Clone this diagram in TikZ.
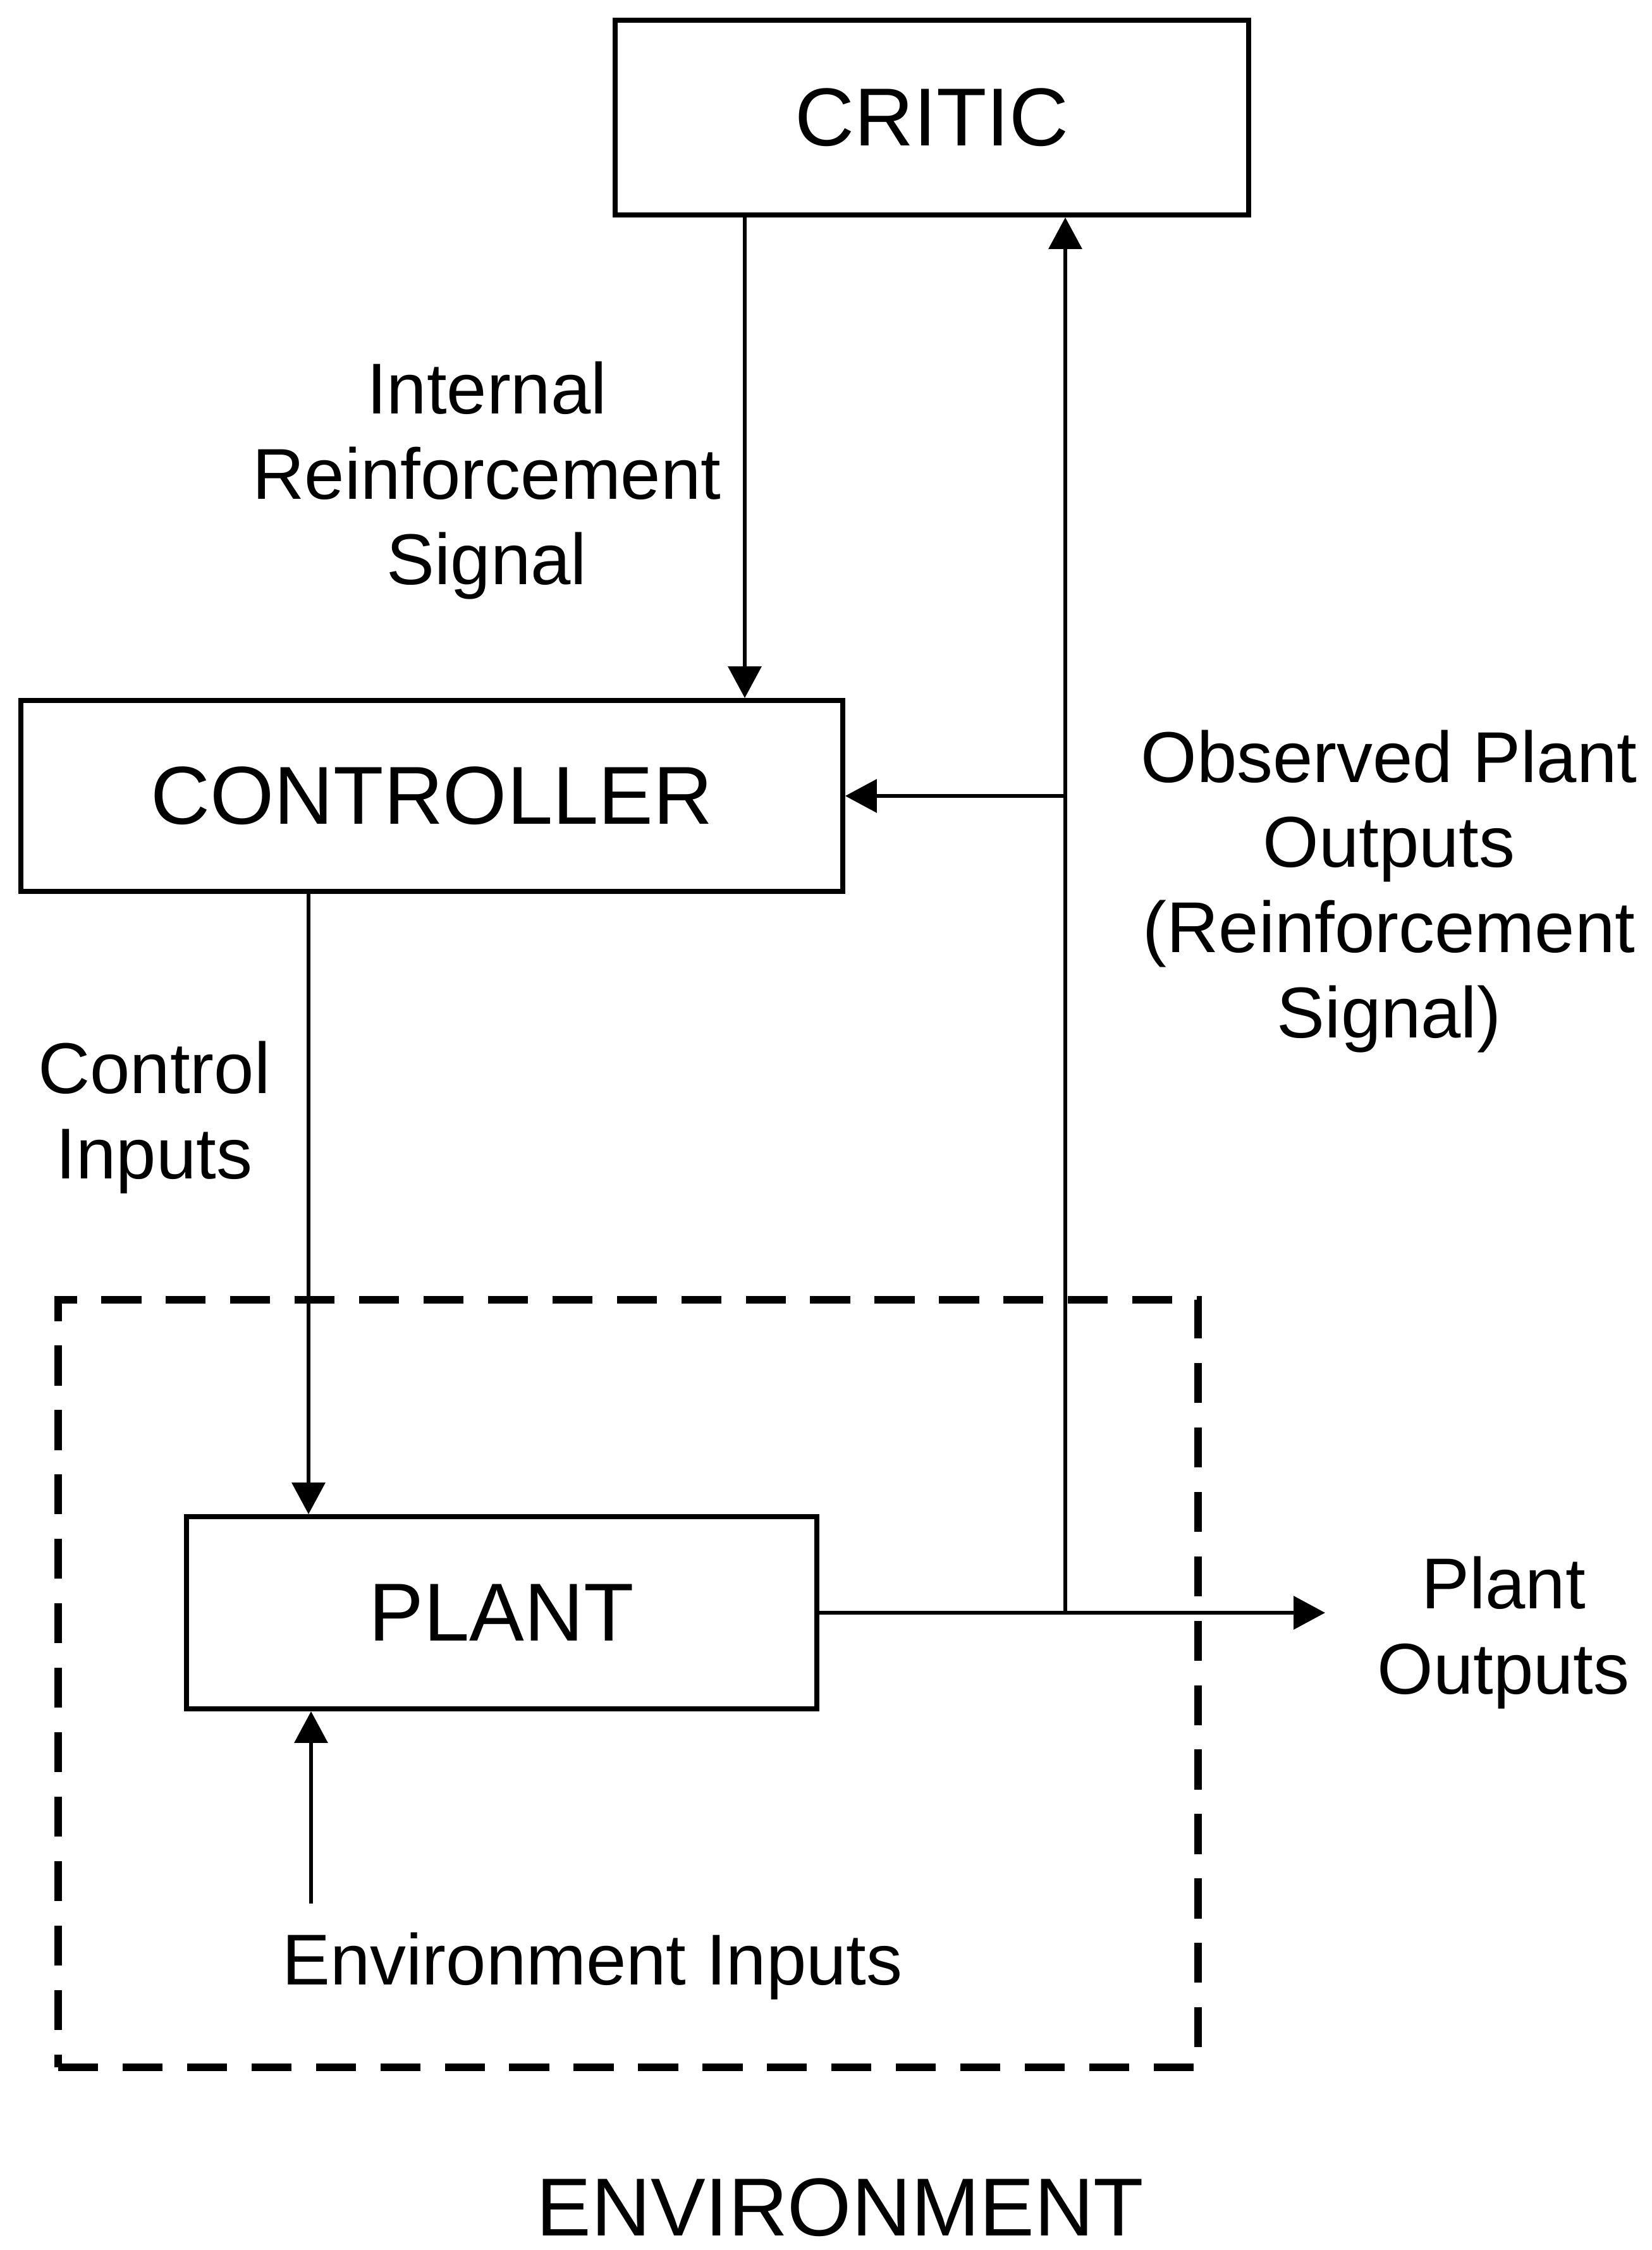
\documentclass[tikz,border=0pt]{standalone}
\usepackage{fontspec}
\setmainfont{Liberation Sans}
\usepackage{tikz}
\usetikzlibrary{arrows.meta,positioning}

\newcommand{\boxfont}{\fontsize{37}{44}\selectfont}
\newcommand{\lblfont}{\fontsize{32.4}{38.4}\selectfont}

\begin{document}
\begin{tikzpicture}[
    block/.style={draw, line width=2.2pt, inner sep=0pt, font=\boxfont},
    lbl/.style={align=center, inner sep=0pt, font=\lblfont},
    sig/.style={line width=1.8pt, -{Triangle[length=0.5cm,width=0.52cm]}},
    envbox/.style={draw, line width=3.6pt, dash pattern=on 18pt off 11pt, inner sep=0pt}
]
\useasboundingbox (0,0) rectangle (26.13,-35.59);

\node[block, minimum width=10.02cm, minimum height=3.08cm] (critic) at (14.74,-1.86) {CRITIC};
\node[block, minimum width=13.00cm, minimum height=3.02cm] (controller) at (6.83,-12.59) {CONTROLLER};
\node[block, minimum width=9.97cm, minimum height=3.04cm] (plant) at (7.935,-25.51) {PLANT};
\node[envbox, minimum width=18.03cm, minimum height=12.14cm] (env) at (9.935,-26.63) {};

\node[lbl] (internal) at (7.70,-7.60) {Internal\\Reinforcement\\Signal};
\node[lbl] (observed) at (21.97,-14.10) {Observed Plant\\Outputs\\(Reinforcement\\Signal)};
\node[lbl] (ctrlin) at (2.44,-17.68) {Control\\Inputs};
\node[lbl] (plantout) at (23.78,-25.83) {Plant\\Outputs};
\node[lbl, anchor=base] (envin) at (9.37,-31.39) {Environment Inputs};
\node[lbl, font=\boxfont, anchor=base] (envname) at (13.29,-35.36) {ENVIRONMENT};

\coordinate (crx) at (11.78,0);
\coordinate (cix) at (4.88,0);
\coordinate (tap) at (16.85,-25.51);
\coordinate (out) at (20.96,-25.51);
\coordinate (ein) at (4.92,-30.11);

\draw[sig] (crx |- critic.south) -- (crx |- controller.north);
\draw[sig] (cix |- controller.south) -- (cix |- plant.north);
\draw[sig] (plant.east) -- (out);
\draw[sig] (tap) -- (tap |- critic.south);
\draw[sig] (tap |- controller.east) -- (controller.east);
\draw[sig] (ein) -- (ein |- plant.south);
\end{tikzpicture}
\end{document}
